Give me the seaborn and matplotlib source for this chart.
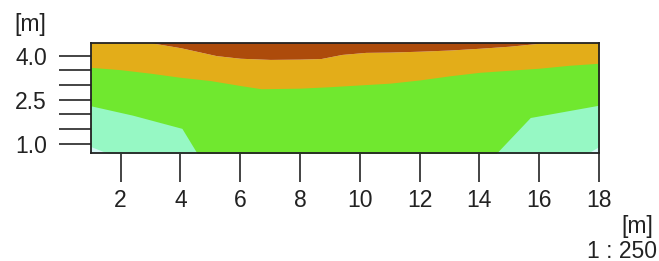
import numpy as np
import matplotlib
matplotlib.use("Agg")
import matplotlib.pyplot as plt
import seaborn as sns

# layer boundaries (x in m, elevation in m)
x_top = [1, 2, 3.0, 4, 5.2, 6, 7, 8, 8.7, 9.4, 10.2, 11, 12, 13, 14, 15, 15.8, 16.5, 18]
brown_base = [4.7, 4.6, 4.44, 4.27, 4.0, 3.91, 3.87, 3.88, 3.90, 4.04, 4.11, 4.12,
              4.15, 4.19, 4.25, 4.32, 4.40, 4.48, 4.6]

x_gold = [1, 2, 3, 4, 5, 6, 6.7, 8, 9, 10, 11, 12, 13, 14, 15, 16, 17, 18]
gold_base = [3.60, 3.52, 3.40, 3.26, 3.15, 2.98, 2.87, 2.89, 2.94, 3.00, 3.06, 3.17,
             3.31, 3.43, 3.50, 3.57, 3.67, 3.74]

x_aqua = [1.0, 2.4, 4.05, 4.6, 14.5, 15.7, 18.0]
aqua_top = [2.29, 1.97, 1.52, 0.6, 0.6, 1.89, 2.31]

x_light = [1.0, 1.6, 17.6, 18.0]
light_top = [0.90, 0.66, 0.66, 0.90]

y_major = [1.0, 2.5, 4.0]
y_minor = [1.5, 2.0, 3.0, 3.5]
x_ticks = [2, 4, 6, 8, 10, 12, 14, 16, 18]

colors = {"brown": "#ad4b0b", "gold": "#e3ad19", "green": "#70e82f",
          "aqua": "#96f8c4", "light": "#d6f8f6"}

sns.set_style("white")
plt.rcParams["font.family"] = ["Liberation Sans", "DejaVu Sans"]
fs = 16.5

fig = plt.figure(figsize=(6.59, 2.61), dpi=100)
ax = fig.add_axes([0.1376, 0.4138, 0.909 - 0.1376, 0.8364 - 0.4138])

ax.fill_between(x_top, -1, brown_base, color=colors["gold"], lw=0, zorder=0)
ax.fill_between(x_top, brown_base, 6, color=colors["brown"], lw=0)
ax.fill_between(x_gold, -1, gold_base, color=colors["green"], lw=0)
ax.fill_between(x_aqua, -1, aqua_top, color=colors["aqua"], lw=0)
ax.fill_between(x_light, -1, light_top, color=colors["light"], lw=0)

ax.set_xlim(1.0, 18.0)
ax.set_ylim(0.68, 4.44)

ax.set_xticks(x_ticks)
ax.set_xticklabels([str(t) for t in x_ticks])
ax.set_yticks(y_major)
ax.set_yticklabels([f"{t:.1f}" for t in y_major])
ax.set_yticks(y_minor, minor=True)

ax.tick_params(axis="y", which="both", length=23, width=1.1, color="#111",
               pad=8.5, labelsize=fs, labelcolor="#222", left=True)
ax.tick_params(axis="x", which="major", length=21, width=1.1, color="#111",
               pad=5, labelsize=fs, labelcolor="#222", bottom=True)

for s in ax.spines.values():
    s.set_linewidth(1.3)
    s.set_color("#222")

fig.text(30 / 659, 1 - 25 / 261, "[m]", ha="center", va="center",
         fontsize=fs, color="#222")
fig.text(653 / 659, 1 - 226 / 261, "[m]", ha="right", va="center",
         fontsize=fs, color="#222")
fig.text(657 / 659, 1 - 251 / 261, "1 : 250", ha="right", va="center",
         fontsize=fs, color="#222")

fig.savefig("out.png", dpi=100)
